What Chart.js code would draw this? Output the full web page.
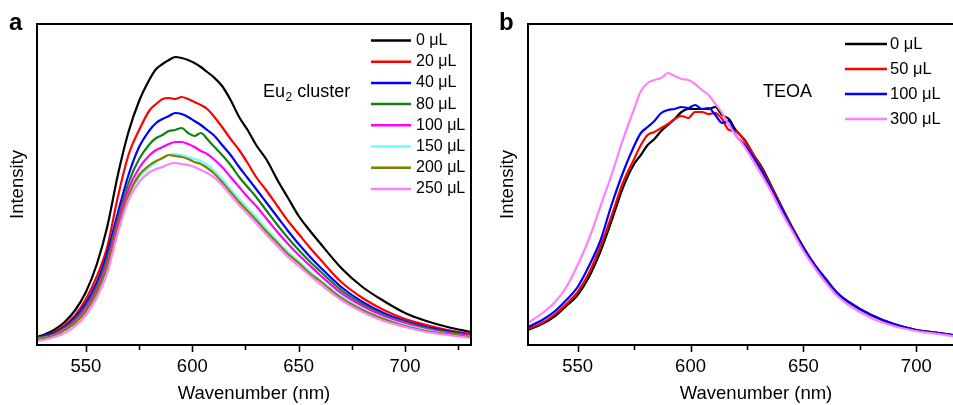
<!DOCTYPE html>
<html>
<head>
<meta charset="utf-8">
<script src="https://cdn.jsdelivr.net/npm/chart.js@4.4.1/dist/chart.umd.min.js"></script>
<style>
  html, body { margin:0; padding:0; background:#fff; width:953px; height:405px; overflow:hidden; }
  canvas { position:absolute; top:0; }
  #chartA { left:0; }
  #chartB { left:480px; }
</style>
</head>
<body>
<canvas id="chartA" width="480" height="405"></canvas>
<canvas id="chartB" width="513" height="405"></canvas>
<script>
// ---- panel a : Eu2 cluster, intensity in arbitrary units ----
const wlA = [527,530,535,540,545,550,555,560,565,570,575,580,583,586,589,592,595,598,601,604,607,610,614,618,622,626,630,635,640,645,650,655,660,670,680,690,700,710,720,731];
const labelsA = ['0 \u03bcL','20 \u03bcL','40 \u03bcL','80 \u03bcL','100 \u03bcL','150 \u03bcL','200 \u03bcL','250 \u03bcL'];
const colorsA = ['#000000','#ff0000','#0000ff','#128212','#ff00ff','#6ffcfc','#7f7f00','#ff80ff'];
const a0   = [8,10,15,23,35,53,80,118,170,213,244,266,276,281,285,288,287,285,282,278,273,268,259,245,228,215,200,185,165,147,129,115,102,77,58,44,32,24,18,13];
const a20  = [7,9,13,20,30,46,68,98,148,190,215,235,241,246,247,246,248,246,243,240,236,229,218,206,195,182,168,154,139,124,111,98,86,63,47,35,26,20,15,11];
const a40  = [7,9,12,18,28,42,62,92,132,170,198,215,222,226,229,232,231,228,224,220,215,210,200,190,178,167,156,142,128,114,101,89,78,58,43,32,24,18,14,10];
const a80  = [7,8,11,17,26,39,58,87,126,162,186,201,207,210,214,215,217,212,209,212,206,199,190,180,168,158,148,134,120,107,95,84,74,55,41,30,23,17,13,10];
const a100 = [6,7,10,16,24,37,55,82,122,156,177,190,195,198,201,203,203,201,198,194,191,186,178,168,158,148,139,126,113,101,90,80,70,52,39,29,22,16,12,9];
const a150 = [6,7,9,15,22,34,51,77,115,148,168,178,183,187,190,191,190,188,186,184,180,175,166,156,146,137,128,116,104,93,84,74,65,49,36,27,20,15,11,8];
const a200 = [6,7,9,15,22,34,52,78,117,150,170,180,184,187,190,189,188,186,183,181,177,172,163,153,143,134,125,113,102,91,82,72,64,47,35,26,19,14,11,8];
const a250 = [4,5,8,12,19,30,47,72,112,145,163,173,176,178,181,182,181,180,178,175,172,168,160,150,140,131,122,110,99,88,79,70,61,45,33,24,18,13,10,7];
const seriesA = [a0,a20,a40,a80,a100,a150,a200,a250];

// ---- panel b : TEOA ----
const wlB = [528,535,540,545,550,555,560,565,570,575,578,581,584,587,590,593,596,599,602,605,608,611,614,617,620,624,628,632,636,640,645,650,655,660,665,670,680,690,700,710,720,730];
const labelsB = ['0 \u03bcL','50 \u03bcL','100 \u03bcL','300 \u03bcL'];
const colorsB = ['#000000','#ff0000','#0000ff','#ff80ff'];
const b0   = [15,22,29,39,50,68,93,124,157,181,190,200,206,214,220,226,233,236,236,236,236,238,230,226,215,205,190,176,158,140,118,98,80,66,52,43,30,21,15,12,9,7];
const b50  = [16,23,31,41,53,72,98,129,162,186,200,210,213,217,221,226,229,227,233,233,231,232,226,215,214,204,190,174,157,139,117,97,80,65,52,43,30,21,15,12,9,7];
const b100 = [18,26,34,45,58,79,104,140,172,199,212,218,224,232,235,236,238,237,240,236,237,230,222,224,210,200,187,172,155,138,116,97,80,65,52,43,30,21,15,12,9,7];
const b300 = [22,33,43,58,80,106,138,170,205,236,254,262,265,267,272,269,266,265,261,255,250,241,232,220,210,198,183,168,152,134,114,94,77,62,49,40,27,19,14,11,8,7];
const seriesB = [b0,b50,b100,b300];

const FONT = '"Liberation Sans", Arial, Helvetica, sans-serif';

// box round the plot area + major/minor ticks on the wavelength axis
const framePlugin = {
  id: 'frame',
  afterDraw(chart) {
    const {ctx, chartArea: ca, scales: {x}} = chart;
    ctx.save();
    ctx.strokeStyle = '#000';
    ctx.lineWidth = 2;
    ctx.strokeRect(ca.left, ca.top, ca.right - ca.left, ca.bottom - ca.top);
    ctx.lineWidth = 1.6;
    x.ticks.forEach(t => {
      const px = Math.round(x.getPixelForValue(t.value)) + 0.5;
      const len = t.value % 50 === 0 ? 7 : 5;
      ctx.beginPath();
      ctx.moveTo(px, ca.bottom);
      ctx.lineTo(px, ca.bottom + len);
      ctx.stroke();
    });
    ctx.restore();
  }
};

// legend + annotation drawn inside the plot
const insideLegend = {
  id: 'insideLegend',
  afterDraw(chart, args, o) {
    const ctx = chart.ctx;
    ctx.save();
    ctx.textBaseline = 'middle';
    ctx.font = o.size + 'px ' + FONT;
    chart.data.datasets.forEach((ds, i) => {
      const y = o.top + i * o.gap;
      ctx.strokeStyle = ds.borderColor;
      ctx.lineWidth = 2.5;
      ctx.beginPath();
      ctx.moveTo(o.x1, y);
      ctx.lineTo(o.x2, y);
      ctx.stroke();
      ctx.fillStyle = '#000';
      ctx.fillText(ds.label, o.tx, y);
    });
    // note text, e.g. Eu2 cluster
    ctx.font = '18px ' + FONT;
    let nx = o.note.x;
    ctx.fillText(o.note.text, nx, o.note.y);
    if (o.note.sub) {
      nx += ctx.measureText(o.note.text).width;
      ctx.font = '12px ' + FONT;
      ctx.fillText(o.note.sub, nx + 0.5, o.note.y + 6);
      nx += ctx.measureText(o.note.sub).width + 0.5;
      ctx.font = '18px ' + FONT;
      ctx.fillText(o.note.rest, nx, o.note.y);
    }
    // panel letter
    ctx.font = 'bold 24px ' + FONT;
    ctx.textBaseline = 'alphabetic';
    ctx.fillText(o.letter.text, o.letter.x, o.letter.y);
    ctx.restore();
  }
};

function makeChart(id, wl, series, labels, colors, xmin, xmax, yAxisW, titlePad, legend) {
  const datasets = series.map((s, i) => ({
    label: labels[i],
    data: wl.map((w, j) => ({x: w, y: s[j]})),
    borderColor: colors[i],
    borderWidth: 2.2,
    pointRadius: 0,
    cubicInterpolationMode: 'monotone',
    order: -i
  }));
  return new Chart(document.getElementById(id), {
    type: 'line',
    data: {datasets},
    options: {
      responsive: false,
      animation: false,
      devicePixelRatio: 1,
      layout: {padding: {top: 24, right: 9, left: 0, bottom: 0}},
      plugins: {legend: {display: false}, tooltip: {enabled: false}, insideLegend: legend},
      scales: {
        x: {
          type: 'linear', min: xmin, max: xmax,
          afterFit: s => { s.height = 60; },
          border: {display: false},
          grid: {drawOnChartArea: false, tickLength: 7, tickColor: 'rgba(0,0,0,0)'},
          ticks: {
            stepSize: 25, includeBounds: false, autoSkip: false, maxRotation: 0,
            padding: 4, color: '#000', font: {family: FONT, size: 18.5},
            callback: v => (v % 50 === 0 ? String(v) : '')
          },
          title: {display: true, text: 'Wavenumber (nm)', color: '#000',
                  font: {family: FONT, size: 18.5}, padding: {top: 0, bottom: 0}}
        },
        y: {
          min: 0, max: 321,
          afterFit: s => { s.width = yAxisW; },
          border: {display: false},
          grid: {display: false},
          ticks: {display: false},
          title: {display: true, text: 'Intensity', color: '#000',
                  font: {family: FONT, size: 18.5}, padding: {top: titlePad, bottom: 0}}
        }
      }
    },
    plugins: [framePlugin, insideLegend]
  });
}

makeChart('chartA', wlA, seriesA, labelsA, colorsA, 527, 731, 37, 7, {
  x1: 371, x2: 411, tx: 416, top: 40.5, gap: 21.2, size: 16,
  note: {x: 263, y: 92, text: 'Eu', sub: '2', rest: ' cluster'},
  letter: {text: 'a', x: 9, y: 30}
});

makeChart('chartB', wlB, seriesB, labelsB, colorsB, 528, 730, 48, 17, {
  x1: 365, x2: 407, tx: 410, top: 44, gap: 25, size: 16.5,
  note: {x: 283, y: 92, text: 'TEOA'},
  letter: {text: 'b', x: 19, y: 30}
});
</script>
</body>
</html>
